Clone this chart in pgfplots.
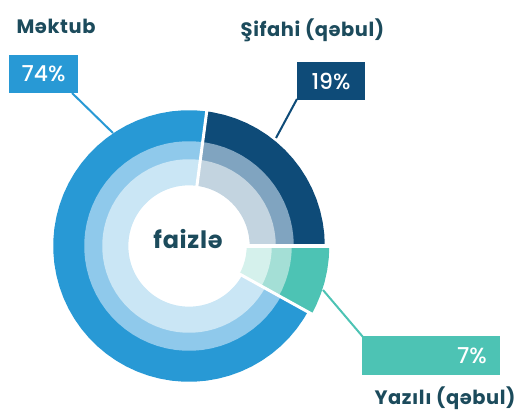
\documentclass[border=0pt]{standalone}
\usepackage{pgfplots}
\pgfplotsset{compat=1.18}
\usepackage{pgfplotstable}
\usepackage{fontspec}
\setmainfont{Poppins}
\newfontfamily\titlefont{Poppins Bold}[LetterSpace=3.0]
\newfontfamily\numfont{Poppins Medium}
\definecolor{bOut}{HTML}{2899D5}
\definecolor{bMid}{HTML}{8FC9EB}
\definecolor{bIn}{HTML}{CAE6F5}
\definecolor{nOut}{HTML}{0E4B78}
\definecolor{nMid}{HTML}{80A4C0}
\definecolor{nIn}{HTML}{C3D4E0}
\definecolor{tOut}{HTML}{4DC3B4}
\definecolor{tMid}{HTML}{A4DFD6}
\definecolor{tIn}{HTML}{D5F1EC}
\definecolor{txt}{HTML}{1C4B5C}
% sector tables: angle (deg), mid radius of inner / middle / outer ring
% Mektub 74% : drawn from 82.5 to 331 deg
\pgfplotstableread{
a r1 r2 r3
82.5 73.75 95.5 120
87.5 73.75 95.5 120
92.5 73.75 95.5 120
97.5 73.75 95.5 120
102.5 73.75 95.5 120
107.5 73.75 95.5 120
112.5 73.75 95.5 120
117.5 73.75 95.5 120
122.5 73.75 95.5 120
127.5 73.75 95.5 120
132.5 73.75 95.5 120
137.5 73.75 95.5 120
142.5 73.75 95.5 120
147.5 73.75 95.5 120
152.5 73.75 95.5 120
157.5 73.75 95.5 120
162.5 73.75 95.5 120
167.5 73.75 95.5 120
172.5 73.75 95.5 120
177.5 73.75 95.5 120
182.5 73.75 95.5 120
187.5 73.75 95.5 120
192.5 73.75 95.5 120
197.5 73.75 95.5 120
202.5 73.75 95.5 120
207.5 73.75 95.5 120
212.5 73.75 95.5 120
217.5 73.75 95.5 120
222.5 73.75 95.5 120
227.5 73.75 95.5 120
232.5 73.75 95.5 120
237.5 73.75 95.5 120
242.5 73.75 95.5 120
247.5 73.75 95.5 120
252.5 73.75 95.5 120
257.5 73.75 95.5 120
262.5 73.75 95.5 120
267.5 73.75 95.5 120
272.5 73.75 95.5 120
277.5 73.75 95.5 120
282.5 73.75 95.5 120
287.5 73.75 95.5 120
292.5 73.75 95.5 120
297.5 73.75 95.5 120
302.5 73.75 95.5 120
307.5 73.75 95.5 120
312.5 73.75 95.5 120
317.5 73.75 95.5 120
322.5 73.75 95.5 120
327.5 73.75 95.5 120
331 73.75 95.5 120
}\mektub
% Sifahi 19% : drawn from 0 to 82.5 deg
\pgfplotstableread{
a r1 r2 r3
0 73.75 95.5 120
5 73.75 95.5 120
10 73.75 95.5 120
15 73.75 95.5 120
20 73.75 95.5 120
25 73.75 95.5 120
30 73.75 95.5 120
35 73.75 95.5 120
40 73.75 95.5 120
45 73.75 95.5 120
50 73.75 95.5 120
55 73.75 95.5 120
60 73.75 95.5 120
65 73.75 95.5 120
70 73.75 95.5 120
75 73.75 95.5 120
80 73.75 95.5 120
82.5 73.75 95.5 120
}\sifahi
% Yazili 7% : drawn from 331 to 360 deg
\pgfplotstableread{
a r1 r2 r3
331 70.25 92.5 121.25
335 70.25 92.5 121.25
340 70.25 92.5 121.25
345 70.25 92.5 121.25
350 70.25 92.5 121.25
355 70.25 92.5 121.25
360 70.25 92.5 121.25
}\yazili
\begin{document}
\begin{tikzpicture}
\begin{axis}[at={(0,0)}, anchor=south west, x=1bp, y=1bp,
  xmin=-189, xmax=330, ymin=-164, ymax=246, hide axis, clip=false,
  every axis plot/.append style={no markers, line cap=butt, line join=round}]
% Mektub
\addplot[draw=bOut, line width=31.6bp, data cs=polar] table[x=a,y=r3]{\mektub};
\addplot[draw=bMid, line width=18.6bp, data cs=polar] table[x=a,y=r2]{\mektub};
\addplot[draw=bIn, line width=26.1bp, data cs=polar] table[x=a,y=r1]{\mektub};
% Sifahi
\addplot[draw=nOut, line width=31.6bp, data cs=polar] table[x=a,y=r3]{\sifahi};
\addplot[draw=nMid, line width=18.6bp, data cs=polar] table[x=a,y=r2]{\sifahi};
\addplot[draw=nIn, line width=26.1bp, data cs=polar] table[x=a,y=r1]{\sifahi};
% Yazili
\addplot[draw=tOut, line width=38.1bp, data cs=polar] table[x=a,y=r3]{\yazili};
\addplot[draw=tMid, line width=20.6bp, data cs=polar] table[x=a,y=r2]{\yazili};
\addplot[draw=tIn, line width=25.1bp, data cs=polar] table[x=a,y=r1]{\yazili};
% white gaps between sectors
\addplot[draw=white, line width=3bp, data cs=polar] coordinates {(82.5,50) (82.5,146)};
\addplot[draw=white, line width=4bp, data cs=polar] coordinates {(0,50) (0,146)};
\addplot[draw=white, line width=3bp, data cs=polar] coordinates {(331,50) (331,146)};
% leader lines
\draw[bOut, line width=2bp] (axis cs:-117,153) -- (axis cs:-76,113);
\draw[nOut, line width=2bp] (axis cs:108,147) -- (axis cs:87,108);
\draw[tOut, line width=2bp] (axis cs:134,-44) -- (axis cs:174,-91);
% value boxes
\node[fill=bOut, minimum width=69bp, minimum height=38bp, inner sep=0pt, text=white,
  font=\numfont\fontsize{22}{22}\selectfont] at (axis cs:-145.5,172) {74\%};
\node[fill=nOut, minimum width=68bp, minimum height=38bp, inner sep=0pt, text=white,
  font=\numfont\fontsize{22}{22}\selectfont] at (axis cs:142,165) {19\%};
\node[fill=tOut, minimum width=138bp, minimum height=38.5bp, inner sep=0pt] at (axis cs:242,-109.25) {};
\node[anchor=east, inner sep=0pt, text=white, font=\numfont\fontsize{22}{22}\selectfont] at (axis cs:298,-109.8) {7\%};
% titles
\node[anchor=base, inner sep=0pt, text=txt, font=\titlefont\fontsize{19.5}{20}\selectfont] at (axis cs:-133,212.7) {Məktub};
\node[anchor=base, inner sep=0pt, text=txt, font=\titlefont\fontsize{19.5}{20}\selectfont] at (axis cs:123.5,209.3) {Şifahi (qəbul)};
\node[anchor=base, inner sep=0pt, text=txt, font=\titlefont\fontsize{19.5}{20}\selectfont] at (axis cs:256,-158.3) {Yazılı (qəbul)};
\node[anchor=base, inner sep=0pt, text=txt, font=\titlefont\fontsize{24}{24}\selectfont] at (axis cs:-1,-2.3) {faizlə};
\end{axis}
\pgfresetboundingbox
\path[use as bounding box] (0,0) rectangle (519bp,410bp);
\end{tikzpicture}
\end{document}
